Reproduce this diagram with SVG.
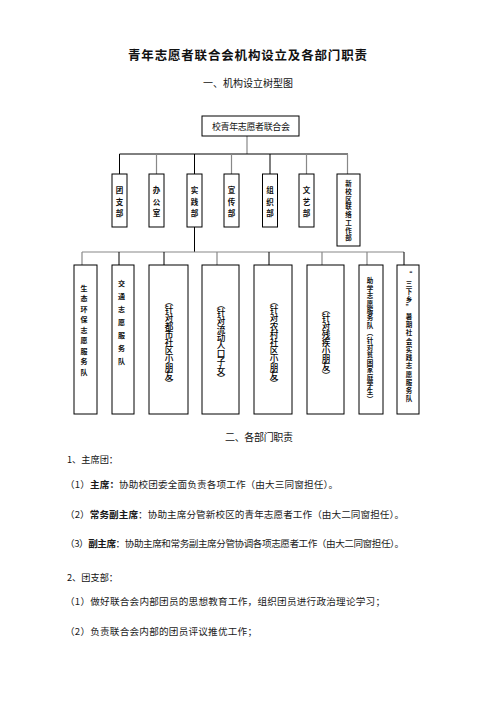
<svg xmlns="http://www.w3.org/2000/svg" width="496" height="702" viewBox="0 0 496 702">
<style>
text{font-family:"Noto Sans CJK SC","Noto Sans",sans-serif;fill:#111}
.box{fill:#fff;stroke:#000;stroke-width:1}
.ln{stroke:#000;stroke-width:1;fill:none}
.gl{stroke:#888;stroke-width:1.2;fill:none}
.v1{font-size:7.5px;text-anchor:middle;font-weight:bold}
.v2{font-size:7px;text-anchor:middle;font-weight:bold}
.v3{font-size:8.6px;text-anchor:middle;font-weight:500;fill:#000}
.v4{font-size:6.5px;text-anchor:middle;font-weight:bold}
.body{font-size:9.6px;fill:#1a1a1a}
.b{font-weight:bold}
</style>
<defs>
<clipPath id="c7"><rect x="359" y="265" width="24" height="149"/></clipPath>
<clipPath id="c8"><rect x="397" y="265" width="22" height="149"/></clipPath>
</defs>
<rect width="496" height="702" fill="#fff"/>
<text x="128" y="59.5" font-size="12.5" font-weight="bold" textLength="239" lengthAdjust="spacing">青年志愿者联合会机构设立及各部门职责</text>
<text x="203" y="86.5" font-size="10" fill="#222" textLength="90" lengthAdjust="spacing">一、机构设立树型图</text>

<g id="connectors">
<line class="gl" x1="247" y1="136" x2="247" y2="154"/>
<line class="ln" x1="119.5" y1="154" x2="348" y2="154"/>
<line class="ln" x1="119.5" y1="154" x2="119.5" y2="174"/>
<line class="gl" x1="156.5" y1="154" x2="156.5" y2="174"/>
<line class="ln" x1="194.5" y1="154" x2="194.5" y2="174"/>
<line class="gl" x1="231.5" y1="154" x2="231.5" y2="174"/>
<line class="ln" x1="270" y1="154" x2="270" y2="174"/>
<line class="gl" x1="306.5" y1="154" x2="306.5" y2="174"/>
<line class="gl" x1="347.5" y1="154" x2="347.5" y2="174"/>
<line class="ln" x1="194.5" y1="227" x2="194.5" y2="252"/>
<line class="gl" x1="82" y1="252" x2="404" y2="252"/>
<line class="gl" x1="82" y1="252" x2="82" y2="265"/>
<line class="ln" x1="119" y1="252" x2="119" y2="265"/>
<line class="ln" x1="164" y1="252" x2="164" y2="265"/>
<line class="gl" x1="217" y1="252" x2="217" y2="265"/>
<line class="ln" x1="269" y1="252" x2="269" y2="265"/>
<line class="gl" x1="322" y1="252" x2="322" y2="265"/>
<line class="gl" x1="367" y1="252" x2="367" y2="265"/>
<line class="ln" x1="404" y1="252" x2="404" y2="265"/>
</g>

<g id="root">
<rect class="box" x="202" y="116" width="97" height="20"/>
<text x="212" y="130" font-size="9" textLength="78" lengthAdjust="spacing">校青年志愿者联合会</text>
</g>

<g id="d1"><rect class="box" x="112" y="174" width="15" height="53"/>
<text class="v1" x="119.5 119.5 119.5" y="193 204.5 216">团支部</text></g>
<g id="d2"><rect class="box" x="149" y="174" width="15" height="53"/>
<text class="v1" x="156.5 156.5 156.5" y="193 204.5 216">办公室</text></g>
<g id="d3"><rect class="box" x="187" y="174" width="15" height="53"/>
<text class="v1" x="194.5 194.5 194.5" y="193 204.5 216">实践部</text></g>
<g id="d4"><rect class="box" x="224" y="174" width="15" height="53"/>
<text class="v1" x="231.5 231.5 231.5" y="193 204.5 216">宣传部</text></g>
<g id="d5"><rect class="box" x="262.5" y="174" width="15" height="53"/>
<text class="v1" x="270 270 270" y="193 204.5 216">组织部</text></g>
<g id="d6"><rect class="box" x="299" y="174" width="15" height="53"/>
<text class="v1" x="306.5 306.5 306.5" y="193 204.5 216">文艺部</text></g>
<g id="d7"><rect class="box" x="337" y="174" width="23" height="72"/>
<text class="v4" x="348.5 348.5 348.5 348.5 348.5 348.5 348.5 348.5" y="186.3 194 201.7 209.4 217.1 224.8 232.5 240.2">新校区联络工作部</text></g>

<g id="t1"><rect class="box" x="74" y="265" width="23" height="149"/>
<text class="v2" x="84 84 84 84 84 84 84 84 84" y="290.5 301 311.5 322 332.5 343 353.5 364 374.5">生态环保志愿服务队</text></g>
<g id="t2"><rect class="box" x="112" y="265" width="22" height="149"/>
<text class="v2" x="121.5 121.5 121.5 121.5 121.5 121.5 121.5" y="285.5 298.5 311.5 324.5 337.5 350.5 363.5">交通志愿服务队</text></g>
<g id="t3"><rect class="box" x="149" y="265" width="39" height="149"/>
<text class="v3" x="169 169 169 169 169 169 169 169 169 169 169" y="305 313.2 321.4 329.6 337.8 346 354.2 362.4 370.6 378.8 387">︵针对都市社区小朋友︶</text></g>
<g id="t4"><rect class="box" x="202" y="265" width="37" height="149"/>
<text class="v3" x="221 221 221 221 221 221 221 221 221 221" y="308 316.2 324.4 332.6 340.8 349 357.2 365.4 373.6 381.8">︵针对流动人口子女︶</text></g>
<g id="t5"><rect class="box" x="254" y="265" width="38" height="149"/>
<text class="v3" x="274 274 274 274 274 274 274 274 274 274 274" y="305 313.2 321.4 329.6 337.8 346 354.2 362.4 370.6 378.8 387">︵针对农村社区小朋友︶</text></g>
<g id="t6"><rect class="box" x="307" y="265" width="37" height="149"/>
<text class="v3" x="326 326 326 326 326 326 326 326 326" y="313 321.2 329.4 337.6 345.8 354 362.2 370.4 378.6">︵针对残疾小朋友︶</text></g>
<g id="t7"><rect class="box" x="359" y="265" width="24" height="149"/>
<text class="v4" clip-path="url(#c7)" x="370 370 370 370 370 370 370 370 370 370 370 370 370 370 370 370 370" y="283.3 290.7 298.1 305.5 312.9 320.3 327.7 335.1 342.5 349.9 357.3 364.7 372.1 379.5 386.9 394.3 401.7">助学志愿服务队︵针对贫困家庭学生︶</text></g>
<g id="t8"><rect class="box" x="397" y="265" width="22" height="149"/>
<text class="v4" clip-path="url(#c8)" x="409 409 409 409 409 409 409 409 409 409 409 409 409 409 409 409" y="277.3 285.6 293.8 302.1 310.4 318.7 326.9 335.2 343.5 351.8 360 368.3 376.6 384.9 393.1 401.4">“三下乡”暑期社会实践志愿服务队</text></g>

<text x="225" y="441" font-size="10" fill="#222" textLength="68" lengthAdjust="spacing">二、各部门职责</text>
<text x="67" y="462.5" font-size="9.2" fill="#333">1、主席团：</text>
<text class="body" x="65" y="487.5" textLength="273" lengthAdjust="spacing">（1）<tspan class="b">主席：</tspan>协助校团委全面负责各项工作（由大三同窗担任）。</text>
<text class="body" x="65" y="517.5" textLength="339" lengthAdjust="spacing">（2）<tspan class="b">常务副主席</tspan>：协助主席分管新校区的青年志愿者工作（由大二同窗担任）。</text>
<text class="body" x="65" y="546.5" textLength="339" lengthAdjust="spacing">（3）<tspan class="b">副主席</tspan>：协助主席和常务副主席分管协调各项志愿者工作（由大二同窗担任）。</text>
<text x="67" y="580.5" font-size="9.2" fill="#333">2、团支部：</text>
<text class="body" x="65" y="604.5" textLength="320" lengthAdjust="spacing">（1）做好联合会内部团员的思想教育工作，组织团员进行政治理论学习；</text>
<text class="body" x="65" y="634.5" textLength="192" lengthAdjust="spacing">（2）负责联合会内部的团员评议推优工作；</text>
</svg>
